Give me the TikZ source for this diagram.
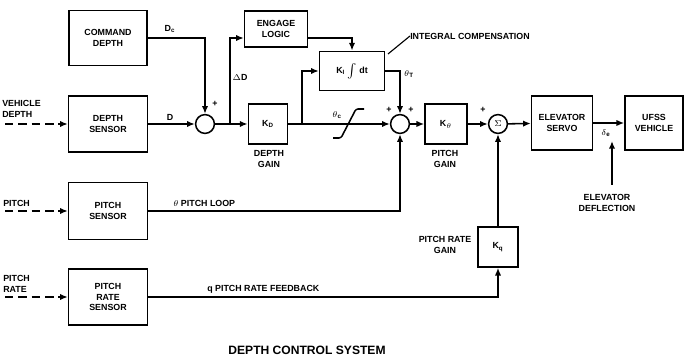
\documentclass[tikz,border=0pt]{standalone}
\usepackage{fontspec}
\setsansfont{Liberation Sans}
\usepackage{tikz}
\usetikzlibrary{ positioning, arrows.meta, calc }

\begin{document}
\begin{tikzpicture}[
  x=0.025cm, y=-0.025cm,
  txt/.style={font=\sffamily\bfseries\fontsize{6.3}{7.4}\selectfont, align=center, inner sep=0pt},
  blk/.style={txt, draw, line width=1.1pt, fill=white},
  sum/.style={draw, circle, line width=1.1pt, minimum size=0.47cm, inner sep=0pt, fill=white},
  sig/.style={-{Latex[length=5.5pt,width=4.5pt]}, line width=1.1pt},
  inp/.style={sig, dash pattern=on 6pt off 3.5pt},
]
  % sensors and command
  \node[blk, minimum width=1.95cm, minimum height=1.38cm] (cmd) at (108,38) {COMMAND\\DEPTH};
  \node[blk, minimum width=1.97cm, minimum height=1.4cm] (dsens) at (108,124) {DEPTH\\SENSOR};
  \node[blk, minimum width=1.97cm, minimum height=1.42cm] (psens) at (108,211) {PITCH\\SENSOR};
  \node[blk, minimum width=1.97cm, minimum height=1.4cm] (prsens) at (108,297) {PITCH\\RATE\\SENSOR};

  % forward path
  \node[sum] (s1) at (205,124) {};
  \node[blk, minimum width=1.57cm, minimum height=0.9cm] (engage) at (276,29) {ENGAGE\\LOGIC};
  \node[blk, minimum width=0.98cm, minimum height=1cm] (kd) at (268,124) {K\textsubscript{D}};
  \node[blk, minimum width=1.62cm, minimum height=0.98cm] (ki) at (352,71) {K\textsubscript{I} $\int$ dt};
  \node[sum] (s2) at (400,124) {};
  \node[blk, minimum width=1.05cm, minimum height=1cm] (kth) at (446,124) {K\textsubscript{$\theta$}};
  \node[sum, font=\sffamily\bfseries\fontsize{6}{7}\selectfont] (sg) at (498,124) {$\Sigma$};
  \node[blk, minimum width=1.52cm, minimum height=1.35cm] (servo) at (562,123) {ELEVATOR\\SERVO};
  \node[blk, minimum width=1.45cm, minimum height=1.35cm] (ufss) at (654,123) {UFSS\\VEHICLE};
  \node[blk, minimum width=1cm, minimum height=1cm] (kq) at (498,247) {K\textsubscript{q}};

  % free ends
  \coordinate (vdin) at (5,124);
  \coordinate (pin) at (5,211);
  \coordinate (prin) at (5,297);
  \coordinate (br1) at (230,124);
  \coordinate (br2) at (302,124);
  \coordinate (deflin) at (612,185);
  \coordinate (deflout) at (612,141);
  \coordinate (icend) at (388,54);

  % inputs
  \draw[inp] (vdin) -- (dsens);
  \draw[inp] (pin) -- (psens);
  \draw[inp] (prin) -- (prsens);

  % connectors
  \draw[sig] (cmd.east) -| (s1.north);
  \draw[sig] (dsens) -- (s1);
  \draw[sig] (s1) -- (kd);
  \draw[sig] (br1) |- ([yshift=-0.225cm]engage.west);
  \draw[sig] ([yshift=-0.225cm]engage.east) -| (ki.north);
  \draw[sig] (kd) -- (s2);
  \draw[sig] (br2) |- (ki.west);
  \draw[sig] (ki.east) -| (s2.north);
  \draw[sig] (psens.east) -| (s2.south);
  \draw[sig] (s2) -- (kth);
  \draw[sig] (kth) -- (sg);
  \draw[sig] (sg) -- (servo);
  \draw[sig] (servo) -- (ufss);
  \draw[sig] (prsens.east) -| (kq.south);
  \draw[sig] (kq) -- (sg);
  \draw[sig] (deflin) -- (deflout);

  % limiter
  \draw[line width=1.1pt, rounded corners=1.5pt] (333,138) -- (341,138) -- (356,109) -- (364,109);

  % labels
  \node[txt, align=left, anchor=west] (lvd) at (2,109) {VEHICLE\\DEPTH};
  \node[txt, anchor=west] (lp) at (3,203) {PITCH};
  \node[txt, align=left, anchor=west] (lpr) at (3,284) {PITCH\\RATE};
  \node[txt] (ldc) at (170,29) {D\textsubscript{c}};
  \node[txt] (ld) at (170,117) {D};
  \node[txt] (lp1) at (215,104) {+};
  \node[txt] (ldd) at (240,77) {$\Delta$D};
  \node[txt] (ldg) at (269,159) {DEPTH\\GAIN};
  \node[txt] (lthc) at (337,115) {$\theta$\textsubscript{c}};
  \node[txt] (lp2) at (389,110) {+};
  \node[txt] (lp3) at (411,110) {+};
  \node[txt] (ltht) at (409,74) {$\theta$\textsubscript{T}};
  \node[txt, anchor=west] (ic) at (410,36) {INTEGRAL COMPENSATION};
  \draw[line width=0.8pt] (ic.west) -- (icend);
  \node[txt] (lpg) at (445,159) {PITCH\\GAIN};
  \node[txt] (lp4) at (483,110) {+};
  \node[txt] (lde) at (606,133) {$\delta$\textsubscript{e}};
  \node[txt] (led) at (607,203) {ELEVATOR\\DEFLECTION};
  \node[txt, anchor=west] (lpl) at (173,203) {$\theta$ PITCH LOOP};
  \node[txt, anchor=west] (lprf) at (207,289) {q PITCH RATE FEEDBACK};
  \node[txt] (lprg) at (445,245) {PITCH RATE\\GAIN};
  \node[txt, font=\sffamily\bfseries\fontsize{8.6}{10}\selectfont] (title) at (307,350) {DEPTH CONTROL SYSTEM};

  \useasboundingbox (0,0) rectangle (685,359);
\end{tikzpicture}
\end{document}
